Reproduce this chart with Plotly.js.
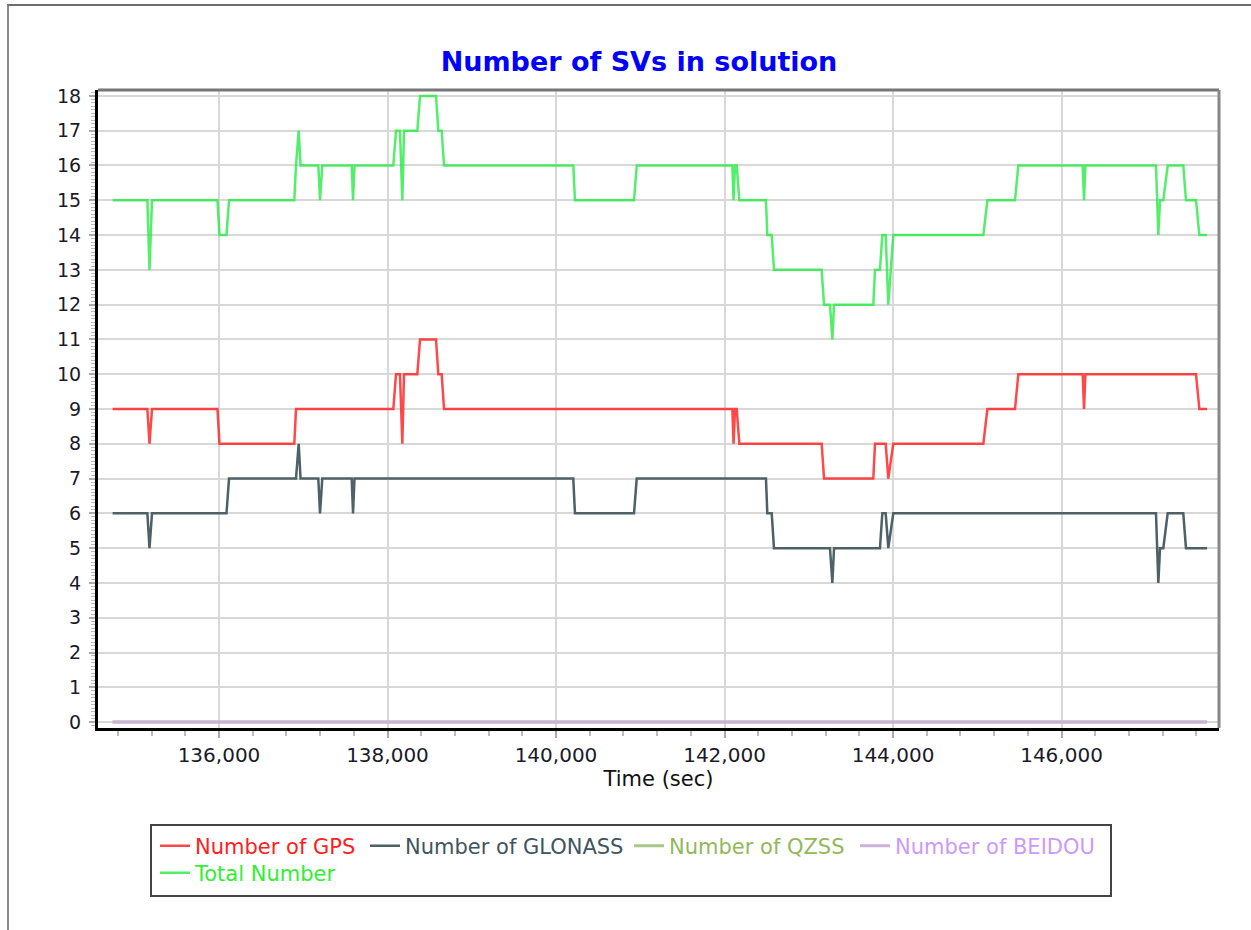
<!DOCTYPE html>
<html>
<head>
<meta charset="utf-8">
<script src="https://cdn.plot.ly/plotly-3.0.1.min.js"></script>
<style>
  html, body { margin: 0; padding: 0; background: #fff; }
  #chart { width: 1251px; height: 930px; }
  #frame { position: absolute; left: 7px; top: 4px; width: 1260px; height: 940px;
           border-left: 2px solid #8a8a8a; border-top: 2px solid #6e6e6e; pointer-events: none; }
</style>
</head>
<body>
<div id="chart"></div>
<div id="frame"></div>
<script>
// Time (sec) of each vertex
const timeSec = [134738,135150,135175,135205,135982,136006,136089,136119,136894,136914,
  136946,136968,137179,137199,137226,137575,137591,137608,138069,138101,
  138148,138176,138196,138354,138386,138576,138603,138643,138671,140205,
  140225,140926,140958,142093,142107,142125,142145,142176,142492,142508,
  142560,142587,143153,143181,143252,143280,143300,143766,143786,143845,
  143873,143913,143944,144003,145072,145120,145448,145487,146251,146267,
  146283,147121,147149,147169,147208,147260,147445,147477,147596,147636,
  147727];
const numGPS = [9,9,8,9,9,8,8,8,8,9,
  9,9,9,9,9,9,9,9,9,10,
  10,8,10,10,11,11,10,10,9,9,
  9,9,9,9,8,9,9,8,8,8,
  8,8,8,7,7,7,7,7,8,8,
  8,8,7,8,8,9,9,10,10,9,
  10,10,10,10,10,10,10,10,10,9,
  9];
const numGLONASS = [6,6,5,6,6,6,6,7,7,7,
  8,7,7,6,7,7,6,7,7,7,
  7,7,7,7,7,7,7,7,7,7,
  6,6,7,7,7,7,7,7,7,6,
  6,5,5,5,5,4,5,5,5,5,
  6,6,5,6,6,6,6,6,6,6,
  6,6,4,5,5,6,6,5,5,5,
  5];
const numTotal = [15,15,13,15,15,14,14,15,15,16,
  17,16,16,15,16,16,15,16,16,17,
  17,15,17,17,18,18,17,17,16,16,
  15,15,16,16,15,16,16,15,15,14,
  14,13,13,12,12,11,12,12,13,13,
  14,14,12,14,14,15,15,16,16,15,
  16,16,14,15,15,16,16,15,15,14,
  14];
const zeroTime = [134738, 147727];
const numQZSS = [0, 0];
const numBEIDOU = [0, 0];

const seriesNames = ['Number of GPS','Number of GLONASS','Number of QZSS','Number of BEIDOU','Total Number'];
const lineColors = ['rgba(255,40,40,0.85)','#4d6166','#a9c98a','#cdb0dc','rgba(40,235,70,0.8)'];
const lineWidths = [2.5, 2.5, 3, 3, 2.5];
const textColors = ['#ff2020','#3f5560','#93b85a','#cc99ff','#33ee33'];
const yTicks = [0,1,2,3,4,5,6,7,8,9,10,11,12,13,14,15,16,17,18];

const xs = [timeSec, timeSec, zeroTime, zeroTime, timeSec];
const ys = [numGPS, numGLONASS, numQZSS, numBEIDOU, numTotal];
const legendIds = ['legend','legend2','legend3','legend4','legend5'];

const traces = seriesNames.map((n, i) => ({
  type: 'scatter', mode: 'lines', name: n,
  x: xs[i], y: ys[i],
  line: {color: lineColors[i], width: lineWidths[i]},
  legend: legendIds[i],
  showlegend: true
}));

// plot area in px: x 98..1219, y 90..728
const L = 98, R = 1219, T = 90, B = 728;
const px = v => (v - L) / (R - L);
const py = v => (B - v) / (B - T);

function leg(xPix, yPix, color) {
  return {
    x: px(xPix), y: py(yPix), xanchor: 'left', yanchor: 'middle',
    orientation: 'h', bgcolor: 'rgba(0,0,0,0)', borderwidth: 0,
    font: {family: 'DejaVu Sans', size: 21, color: color},
    itemwidth: 30, tracegroupgap: 0
  };
}

const layout = {
  width: 1251, height: 930,
  paper_bgcolor: '#fff', plot_bgcolor: '#fff',
  margin: {l: L, r: 1251 - R, t: T, b: 930 - B, autoexpand: false},
  title: {
    text: '<b>Number of SVs in solution</b>',
    font: {family: 'DejaVu Sans', size: 27, color: '#0000ff'},
    x: px(639), xref: 'paper', xanchor: 'center',
    y: 1 - 62 / 930, yref: 'container', yanchor: 'middle'
  },
  xaxis: {
    range: [134564, 147869],
    tick0: 0, dtick: 2000, tickformat: ',d',
    showgrid: true, gridcolor: '#d8d8d8', gridwidth: 2,
    zeroline: false,
    showline: true, linecolor: '#000', linewidth: 3,
    ticks: 'outside', ticklen: 7, tickwidth: 2, tickcolor: '#aaa',
    minor: {dtick: 400, ticks: 'outside', ticklen: 5, tickwidth: 2, tickcolor: '#bbb', showgrid: false},
    tickfont: {family: 'DejaVu Sans', size: 20, color: '#1a1a2a'},
    title: {text: 'Time (sec)', font: {family: 'DejaVu Sans', size: 21, color: '#111'}, standoff: 2}
  },
  yaxis: {
    range: [-0.17, 18.17],
    tickvals: yTicks, ticktext: yTicks.map(String),
    showgrid: true, gridcolor: '#d8d8d8', gridwidth: 2,
    zeroline: false,
    showline: true, linecolor: '#000', linewidth: 3,
    ticks: 'outside', ticklen: 6, tickwidth: 2, tickcolor: '#aaa',
    minor: {dtick: 0.1, ticks: 'outside', ticklen: 4, tickwidth: 1, tickcolor: '#bbb', showgrid: false},
    tickfont: {family: 'DejaVu Sans', size: 19, color: '#1a1a2a'},
    ticklabelstandoff: 4
  },
  showlegend: true,
  legend: leg(155, 846, textColors[0]),
  legend2: leg(365, 846, textColors[1]),
  legend3: leg(629, 846, textColors[2]),
  legend4: leg(855, 846, textColors[3]),
  legend5: leg(155, 873, textColors[4]),
  shapes: [
    {type: 'line', xref: 'paper', yref: 'paper', x0: 0, x1: 1, y0: 1, y1: 1, line: {color: '#777', width: 3}},
    {type: 'line', xref: 'paper', yref: 'paper', x0: 1, x1: 1, y0: 0, y1: 1, line: {color: '#888', width: 3}},
    {type: 'rect', xref: 'paper', yref: 'paper', x0: px(151), x1: px(1111), y0: py(896), y1: py(825),
     line: {color: '#444', width: 2}, fillcolor: 'rgba(0,0,0,0)'}
  ]
};

Plotly.newPlot('chart', traces, layout, {displayModeBar: false, staticPlot: true});
</script>
</body>
</html>
